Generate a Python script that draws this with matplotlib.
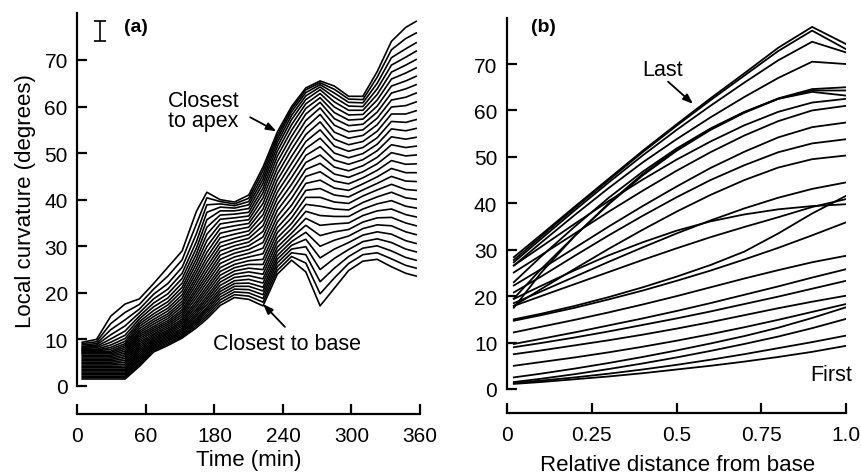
import matplotlib
matplotlib.use('Agg')
import numpy as np
import matplotlib.pyplot as plt

plt.rcParams['font.family'] = ['Liberation Sans', 'DejaVu Sans']

# (a) local curvature against time, one line per position along the organ
times_a = [5, 20, 35, 50, 65, 80, 95, 110, 125, 136, 150, 165, 180,
           195, 210, 225, 240, 255, 270, 285, 300, 315, 330, 345, 356]

# one row per time: values of the lines from closest-to-base to closest-to-apex
curv_a = [
    [1.5, 1.8, 2.1, 2.4, 2.7, 3.0, 3.3, 3.6, 3.9, 4.2, 4.5, 4.8, 5.1, 5.4, 5.7, 6.0, 6.3, 6.6, 6.9, 7.1, 7.3, 7.5, 7.7, 7.9, 8.1, 8.3, 8.5, 8.8, 9.1, 9.4],
    [1.5, 1.8, 2.1, 2.4, 2.7, 3.0, 3.3, 3.6, 3.9, 4.2, 4.5, 4.8, 5.1, 5.4, 5.7, 6.0, 6.3, 6.6, 6.9, 7.1, 7.3, 7.5, 7.7, 7.9, 8.2, 8.5, 8.8, 9.1, 9.5, 10.0],
    [1.5, 1.8, 2.1, 2.4, 2.7, 3.0, 3.3, 3.6, 3.9, 4.2, 4.5, 4.8, 5.1, 5.4, 5.7, 6.0, 6.3, 6.6, 6.9, 7.2, 7.5, 7.9, 8.3, 8.8, 9.4, 10.1, 11.0, 12.1, 13.4, 15.0],
    [1.5, 1.8, 2.1, 2.4, 2.7, 3.0, 3.3, 3.6, 3.9, 4.3, 4.7, 5.1, 5.5, 5.9, 6.3, 6.7, 7.1, 7.5, 7.9, 8.3, 8.7, 9.1, 9.6, 10.2, 10.9, 11.8, 12.9, 14.2, 15.8, 17.6],
    [4.2, 4.6, 5.0, 5.4, 5.8, 6.2, 6.6, 7.0, 7.4, 7.8, 8.2, 8.6, 9.0, 9.4, 9.8, 10.2, 10.6, 11.0, 11.4, 11.8, 12.3, 12.8, 13.3, 13.8, 14.4, 15.0, 15.7, 16.5, 17.5, 18.7],
    [7.3, 7.6, 7.9, 8.2, 8.5, 8.8, 9.1, 9.4, 9.7, 10.0, 10.3, 10.6, 10.9, 11.2, 11.6, 12.0, 12.4, 12.8, 13.3, 13.8, 14.3, 14.9, 15.5, 16.2, 17.0, 17.8, 18.7, 19.7, 20.8, 22.0],
    [8.7, 9.0, 9.3, 9.6, 9.9, 10.2, 10.5, 10.8, 11.1, 11.4, 11.7, 12.0, 12.4, 12.8, 13.2, 13.6, 14.0, 14.5, 15.0, 15.5, 16.1, 16.7, 17.4, 18.1, 18.9, 19.8, 20.8, 22.0, 23.6, 25.5],
    [10.3, 10.6, 10.9, 11.2, 11.5, 11.8, 12.1, 12.4, 12.8, 13.2, 13.6, 14.0, 14.4, 14.9, 15.4, 15.9, 16.4, 17.0, 17.6, 18.2, 18.9, 19.6, 20.4, 21.2, 22.1, 23.1, 24.2, 25.5, 27.1, 29.0],
    [12.5, 12.9, 13.3, 13.7, 14.1, 14.5, 15.0, 15.5, 16.0, 16.5, 17.1, 17.7, 18.3, 19.0, 19.7, 20.4, 21.1, 21.9, 22.7, 23.5, 24.4, 25.3, 26.3, 27.3, 28.4, 29.6, 31.0, 32.7, 34.8, 37.5],
    [14.4, 14.9, 15.4, 15.9, 16.4, 16.9, 17.5, 18.1, 18.7, 19.3, 20.0, 20.7, 21.4, 22.2, 23.0, 23.8, 24.7, 25.6, 26.6, 27.6, 28.7, 29.9, 31.2, 32.6, 34.1, 35.7, 37.3, 38.9, 40.4, 41.6],
    [17.3, 17.9, 18.5, 19.1, 19.7, 20.3, 20.9, 21.6, 22.3, 23.0, 23.8, 24.6, 25.4, 26.3, 27.2, 28.1, 29.0, 29.9, 30.8, 31.8, 32.8, 33.8, 34.8, 35.8, 36.7, 37.6, 38.4, 39.1, 39.6, 40.0],
    [19.0, 19.6, 20.2, 20.8, 21.4, 22.0, 22.6, 23.3, 24.0, 24.7, 25.4, 26.1, 26.9, 27.7, 28.5, 29.3, 30.1, 30.9, 31.7, 32.6, 33.5, 34.4, 35.3, 36.1, 36.9, 37.6, 38.2, 38.7, 39.1, 39.5],
    [18.6, 19.3, 20.0, 20.7, 21.4, 22.1, 22.9, 23.7, 24.5, 25.3, 26.1, 26.9, 27.7, 28.5, 29.3, 30.1, 30.9, 31.7, 32.5, 33.3, 34.1, 34.9, 35.7, 36.5, 37.3, 38.1, 38.9, 39.6, 40.3, 41.0],
    [17.2, 18.0, 18.8, 19.6, 20.4, 21.2, 22.1, 23.0, 24.0, 25.0, 26.1, 27.2, 28.4, 29.6, 30.8, 32.0, 33.2, 34.4, 35.6, 36.8, 38.0, 39.2, 40.4, 41.5, 42.5, 43.5, 44.4, 45.3, 46.2, 47.0],
    [24.0, 24.8, 25.6, 26.4, 27.2, 28.0, 28.9, 29.8, 30.8, 31.8, 32.9, 34.0, 35.2, 36.4, 37.7, 39.0, 40.3, 41.6, 42.9, 44.2, 45.5, 46.8, 48.1, 49.3, 50.4, 51.4, 52.3, 53.1, 53.8, 54.5],
    [27.0, 27.8, 28.6, 29.4, 30.2, 31.0, 31.9, 32.8, 33.8, 34.9, 36.1, 37.4, 38.8, 40.3, 41.8, 43.3, 44.8, 46.3, 47.8, 49.3, 50.8, 52.2, 53.6, 54.9, 56.1, 57.2, 58.1, 58.9, 59.5, 60.0],
    [24.5, 26.4, 28.2, 29.9, 31.5, 33.0, 34.5, 36.0, 37.5, 39.0, 40.5, 42.0, 43.5, 45.0, 46.5, 48.0, 49.5, 51.0, 52.5, 54.0, 55.5, 57.0, 58.4, 59.6, 60.6, 61.5, 62.3, 63.0, 63.6, 64.0],
    [17.2, 19.8, 22.4, 25.0, 27.5, 30.0, 32.3, 34.5, 36.6, 38.6, 40.5, 42.4, 44.2, 46.0, 47.8, 49.6, 51.4, 53.2, 55.0, 56.7, 58.3, 59.7, 60.9, 61.9, 62.8, 63.6, 64.2, 64.7, 65.1, 65.5],
    [21.0, 23.2, 25.3, 27.4, 29.4, 31.3, 33.1, 34.8, 36.4, 38.0, 39.5, 41.0, 42.5, 44.0, 45.5, 47.0, 48.5, 50.0, 51.5, 53.0, 54.5, 56.0, 57.4, 58.7, 59.9, 61.0, 62.0, 62.9, 63.7, 64.4],
    [24.8, 26.3, 27.8, 29.3, 30.8, 32.2, 33.6, 35.0, 36.4, 37.8, 39.2, 40.6, 42.0, 43.4, 44.8, 46.2, 47.6, 49.0, 50.4, 51.8, 53.2, 54.6, 55.9, 57.1, 58.2, 59.2, 60.1, 60.9, 61.6, 62.2],
    [26.8, 28.2, 29.6, 31.0, 32.4, 33.8, 35.2, 36.6, 38.0, 39.4, 40.8, 42.1, 43.4, 44.7, 46.0, 47.3, 48.6, 49.9, 51.2, 52.5, 53.8, 55.0, 56.2, 57.3, 58.3, 59.2, 60.0, 60.8, 61.5, 62.2],
    [27.2, 28.6, 30.1, 31.6, 33.1, 34.6, 36.1, 37.6, 39.1, 40.6, 42.1, 43.5, 44.9, 46.3, 47.7, 49.1, 50.5, 51.9, 53.3, 54.7, 56.1, 57.5, 58.8, 60.1, 61.4, 62.6, 63.8, 65.0, 66.3, 67.5],
    [25.6, 27.3, 29.0, 30.8, 32.6, 34.4, 36.2, 38.0, 39.8, 41.6, 43.3, 45.0, 46.7, 48.4, 50.1, 51.8, 53.5, 55.2, 56.8, 58.4, 59.9, 61.4, 62.9, 64.4, 65.9, 67.4, 68.9, 70.5, 72.2, 74.0],
    [24.2, 25.9, 27.6, 29.4, 31.2, 33.1, 35.0, 36.8, 38.6, 40.4, 42.2, 44.0, 45.8, 47.6, 49.4, 51.2, 53.0, 54.8, 56.6, 58.4, 60.2, 62.0, 63.8, 65.5, 67.2, 68.9, 70.6, 72.4, 74.6, 77.0],
    [23.6, 25.3, 27.0, 28.8, 30.6, 32.5, 34.4, 36.3, 38.2, 40.1, 42.0, 43.9, 45.8, 47.7, 49.6, 51.5, 53.4, 55.3, 57.2, 59.1, 61.0, 62.9, 64.7, 66.5, 68.3, 70.1, 71.9, 73.7, 75.8, 78.3],
]
tick_lab_a = ['0', '60', '180', '240', '300', '360']

# (b) curvature against relative distance from base, one line per time (first to last)
dist_b = [0.02, 0.1, 0.2, 0.3, 0.4, 0.5, 0.6, 0.7, 0.8, 0.9, 1.0]
curv_b = [
    [1.1, 1.5, 2.1, 2.7, 3.4, 4.2, 5.0, 5.9, 6.9, 8.0, 9.3],
    [1.3, 1.8, 2.5, 3.3, 4.2, 5.2, 6.3, 7.5, 8.8, 10.1, 11.5],
    [1.5, 2.2, 3.2, 4.3, 5.5, 6.8, 8.2, 9.7, 11.3, 13.1, 15.1],
    [2.5, 3.3, 4.4, 5.6, 6.9, 8.3, 9.8, 11.4, 13.2, 15.3, 17.6],
    [5.0, 5.8, 6.8, 7.9, 9.1, 10.4, 11.8, 13.3, 14.9, 16.6, 18.3],
    [7.5, 8.3, 9.4, 10.5, 11.7, 13.0, 14.4, 15.9, 17.4, 18.8, 20.1],
    [9.0, 9.9, 11.1, 12.4, 13.8, 15.2, 16.7, 18.3, 19.9, 21.6, 23.3],
    [9.7, 10.8, 12.2, 13.7, 15.2, 16.8, 18.5, 20.3, 22.1, 24.0, 25.8],
    [12.2, 13.4, 14.9, 16.5, 18.2, 20.0, 21.9, 23.8, 25.6, 27.3, 28.7],
    [14.7, 15.9, 17.5, 19.3, 21.2, 23.3, 25.5, 27.9, 30.4, 33.1, 35.9],
    [15.0, 16.2, 17.9, 19.8, 21.9, 24.2, 26.7, 29.6, 33.5, 37.8, 41.6],
    [17.9, 20.0, 22.6, 25.2, 27.8, 30.3, 32.7, 34.9, 37.0, 39.2, 40.9],
    [19.4, 22.2, 25.6, 28.8, 31.6, 34.1, 36.1, 37.6, 38.7, 39.4, 39.8],
    [18.5, 21.0, 24.2, 27.4, 30.5, 33.5, 36.3, 38.9, 41.2, 43.1, 44.5],
    [17.9, 21.5, 25.9, 30.2, 34.3, 38.2, 41.8, 45.0, 47.7, 49.5, 50.3],
    [20.8, 24.2, 28.7, 33.1, 37.3, 41.3, 45.0, 48.2, 51.0, 52.9, 53.8],
    [22.3, 25.8, 30.4, 35.0, 39.4, 43.6, 47.6, 51.1, 54.2, 56.4, 57.4],
    [25.1, 28.8, 33.5, 38.2, 42.7, 47.0, 51.0, 54.6, 57.7, 60.0, 61.0],
    [17.5, 25.0, 33.0, 40.0, 46.3, 51.6, 56.0, 59.6, 62.6, 64.6, 65.0],
    [19.5, 25.8, 33.0, 39.8, 46.0, 51.3, 55.8, 59.5, 62.5, 64.3, 64.3],
    [23.0, 28.5, 35.0, 41.2, 46.8, 51.8, 56.1, 59.7, 62.5, 64.0, 63.2],
    [26.6, 30.6, 35.6, 40.5, 45.1, 49.4, 53.3, 56.8, 59.7, 61.7, 62.5],
    [26.6, 31.5, 37.5, 43.3, 48.8, 53.8, 58.5, 62.9, 67.0, 70.5, 70.0],
    [27.3, 32.3, 38.5, 44.5, 50.3, 55.8, 61.0, 66.0, 70.8, 74.8, 72.5],
    [27.8, 32.8, 39.0, 45.0, 51.0, 56.7, 62.2, 67.5, 72.8, 77.2, 73.2],
    [28.4, 33.2, 39.3, 45.3, 51.3, 57.0, 62.6, 68.0, 73.5, 78.0, 74.3],
]
tick_lab_b = ['0', '0.25', '0.5', '0.75', '1.0']

fig = plt.figure(figsize=(8.61, 4.77), dpi=100)
ax1 = fig.add_axes([0.090, 0.1887, 0.3978, 0.7811])
ax2 = fig.add_axes([0.5889, 0.1824, 0.3937, 0.7786])


def style(ax, drop_px):
    for side in ['top', 'right']:
        ax.spines[side].set_visible(False)
    for side in ['left', 'bottom']:
        ax.spines[side].set_linewidth(1.6)
    ax.spines['bottom'].set_position(('outward', drop_px * 0.72))
    ax.tick_params(direction='in', length=7, width=1.6, labelsize=15)
    ax.tick_params(axis='x', pad=8.5)
    ax.tick_params(axis='y', pad=7)
    ax.set_ylim(0, 80)
    ax.set_yticks(range(0, 80, 10))


arrow = dict(arrowstyle='-|>,head_length=0.6,head_width=0.22',
             color='black', lw=1.3, shrinkA=0, shrinkB=0)

# panel (a)
for line in zip(*curv_a):
    ax1.plot(times_a, line, color='black', lw=1.2)
style(ax1, 28)
ax1.set_xlim(0, 360)
ax1.set_xticks(np.linspace(0, 360, len(tick_lab_a)))
ax1.set_xticklabels(tick_lab_a)
ax1.set_xlabel('Time (min)', fontsize=16)
ax1.xaxis.set_label_coords(0.5, -0.17)
ax1.set_ylabel('Local curvature (degrees)', fontsize=16)
ax1.yaxis.set_label_coords(-0.122, 0.5)

ax1.errorbar(24, 76.3, yerr=2.15, fmt='none', ecolor='black',
             elinewidth=1.2, capsize=4, capthick=1.2)
ax1.text(49, 77.2, '(a)', fontsize=14, fontweight='bold', va='center')
ax1.text(95.5, 59.2, 'Closest\nto apex', fontsize=15.5, va='center',
         ha='left', linespacing=0.95)
ax1.annotate('', xy=(209, 54.7), xytext=(181.5, 57.7), arrowprops=arrow)
ax1.text(142.7, 9.2, 'Closest to base', fontsize=15.5, va='center', ha='left')
ax1.annotate('', xy=(195, 17.6), xytext=(218, 12.7), arrowprops=arrow)

# panel (b)
for line in curv_b:
    ax2.plot(dist_b, line, color='black', lw=1.3)
style(ax2, 24)
ax2.set_xlim(0, 1)
ax2.set_xticks(np.linspace(0, 1, len(tick_lab_b)))
ax2.set_xticklabels(tick_lab_b)
ax2.set_xlabel('Relative distance from base', fontsize=16)
ax2.xaxis.set_label_coords(0.504, -0.175)

ax2.text(0.072, 78.1, '(b)', fontsize=14, fontweight='bold', va='center')
ax2.text(0.398, 68.8, 'Last', fontsize=15.5, va='center', ha='left')
ax2.annotate('', xy=(0.549, 61.4), xytext=(0.475, 66.2), arrowprops=arrow)
ax2.text(0.895, 3.2, 'First', fontsize=15.5, va='center', ha='left')

plt.savefig('out.png', dpi=100)
